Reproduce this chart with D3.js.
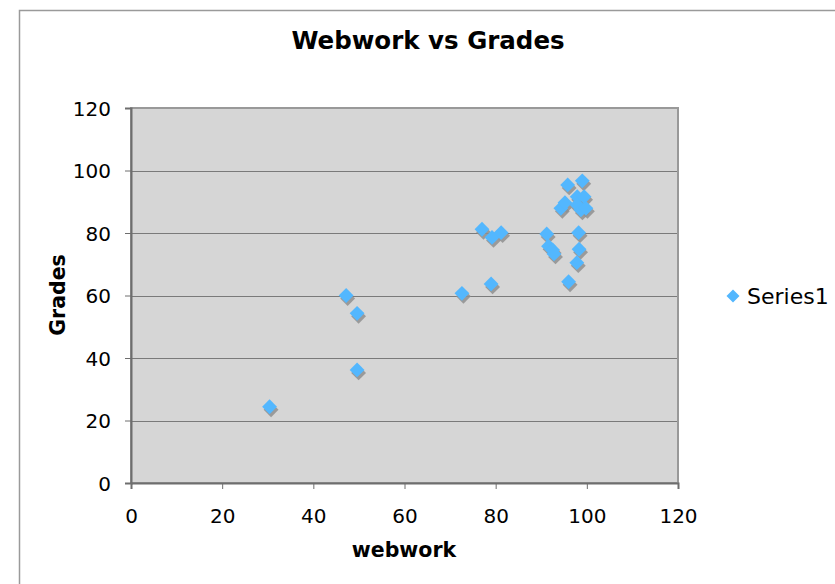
<!DOCTYPE html>
<html lang="en">
<head>
  <meta charset="UTF-8">
  <title>Webwork vs Grades</title>
  <style>
    body{margin: 0; background: #fff;}
    svg{display: block; font-family: "DejaVu Sans", Verdana, sans-serif;}
  </style>
</head>
<body>
  <div id="chart"></div>
  <script src="https://d3js.org/d3.v7.min.js"></script>
  <script>
  // DATA
  const webwork = [30.4, 47.2, 49.6, 49.6, 72.6, 77.0, 79.0, 79.2, 81.2, 91.2, 91.6, 92.5, 92.8,
    94.3, 95.2, 95.8, 96.0, 97.8, 97.9, 97.9, 98.2, 98.3, 98.7, 99.0, 99.4, 99.8];
  const grades = [24.4, 60.0, 54.3, 36.2, 60.7, 81.2, 63.7, 78.6, 80.1, 79.7, 75.8, 74.6, 73.3,
    87.9, 89.7, 95.4, 64.4, 70.5, 91.6, 89.0, 80.1, 74.8, 87.4, 96.7, 91.6, 87.9];
  const xTicks = [0, 20, 40, 60, 80, 100, 120];
  const yTicks = [0, 20, 40, 60, 80, 100, 120];
  const seriesName = "Series1";

  // CONSTANTS
  const width = 835, height = 584;
  const plot = {left: 131, top: 108, right: 678, bottom: 483};
  const cfill = "#53b7fe";
  const cshadow = "#8f8f8f";
  const font = "\"DejaVu Sans\", Verdana, sans-serif";

  const svg = d3.select("#chart").append("svg")
    .attr("width", width)
    .attr("height", height);

  // outer frame
  svg.append("rect")
    .attr("x", 19.5).attr("y", 10.5)
    .attr("width", 840).attr("height", 600)
    .attr("fill", "none").attr("stroke", "#9a9a9a").attr("stroke-width", 1.5);

  const x = d3.scaleLinear().domain([0, 120]).range([plot.left, plot.right]);
  const y = d3.scaleLinear().domain([0, 120]).range([plot.bottom, plot.top]);

  // plot background
  svg.append("rect")
    .attr("x", plot.left).attr("y", plot.top)
    .attr("width", plot.right - plot.left).attr("height", plot.bottom - plot.top)
    .attr("fill", "#d6d6d6");

  // gridlines
  svg.append("g")
    .selectAll("line")
    .data(yTicks.filter(d => d > 0 && d < 120))
    .join("line")
    .attr("x1", plot.left).attr("x2", plot.right)
    .attr("y1", d => Math.round(y(d)) + 0.5).attr("y2", d => Math.round(y(d)) + 0.5)
    .attr("stroke", "#7a7a7a").attr("stroke-width", 1);

  // plot border
  svg.append("rect")
    .attr("x", plot.left).attr("y", plot.top)
    .attr("width", plot.right - plot.left).attr("height", plot.bottom - plot.top)
    .attr("fill", "none").attr("stroke", "#999").attr("stroke-width", 2);

  // AXES
  const xAxis = svg.append("g")
    .attr("transform", `translate(0,${plot.bottom})`)
    .call(d3.axisBottom(x).tickValues(xTicks).tickSize(6).tickPadding(18));
  const yAxis = svg.append("g")
    .attr("transform", `translate(${plot.left},0)`)
    .call(d3.axisLeft(y).tickValues(yTicks).tickSize(6).tickPadding(14));

  [xAxis, yAxis].forEach(ax => {
    ax.select(".domain").attr("stroke", "#6e6e6e").attr("stroke-width", 2);
    ax.selectAll(".tick line").attr("stroke", "#6e6e6e");
    ax.selectAll(".tick text")
      .attr("fill", "#000")
      .style("font-size", "20px")
      .style("font-family", font);
  });
  xAxis.selectAll(".tick text").attr("dy", "0.8em");
  yAxis.selectAll(".tick text").attr("dy", "0.36em");

  // POINTS
  const pts = webwork.map((w, i) => ({x: w, y: grades[i]}));
  const diamond = d3.symbol().type(d3.symbolSquare).size(110);

  svg.append("g")
    .selectAll("path")
    .data(pts)
    .join("path")
    .attr("d", diamond)
    .attr("transform", d => `translate(${x(d.x) + 1.5},${y(d.y) + 3})` + " rotate(45)")
    .attr("fill", cshadow).attr("opacity", 0.85);

  svg.append("g")
    .selectAll("path")
    .data(pts)
    .join("path")
    .attr("d", diamond)
    .attr("transform", d => `translate(${x(d.x)},${y(d.y)}) rotate(45)`)
    .attr("fill", cfill);

  // TITLES
  svg.append("text")
    .attr("x", 428).attr("y", 49)
    .attr("text-anchor", "middle")
    .style("font-size", "24.5px").style("font-weight", "bold")
    .text("Webwork vs Grades");

  svg.append("text")
    .attr("x", 404).attr("y", 557)
    .attr("text-anchor", "middle")
    .style("font-size", "20.5px").style("font-weight", "bold")
    .text("webwork");

  svg.append("text")
    .attr("transform", "translate(65,295) rotate(-90)")
    .attr("text-anchor", "middle")
    .style("font-size", "20.5px").style("font-weight", "bold")
    .text("Grades");

  // LEGEND
  const legend = svg.append("g").attr("transform", "translate(733,296)");
  legend.append("path")
    .attr("d", d3.symbol().type(d3.symbolSquare).size(85))
    .attr("transform", "rotate(45)")
    .attr("fill", cfill);
  legend.append("text")
    .attr("x", 14).attr("dy", "0.36em")
    .style("font-size", "22px")
    .text(seriesName);
  </script>
</body>
</html>
